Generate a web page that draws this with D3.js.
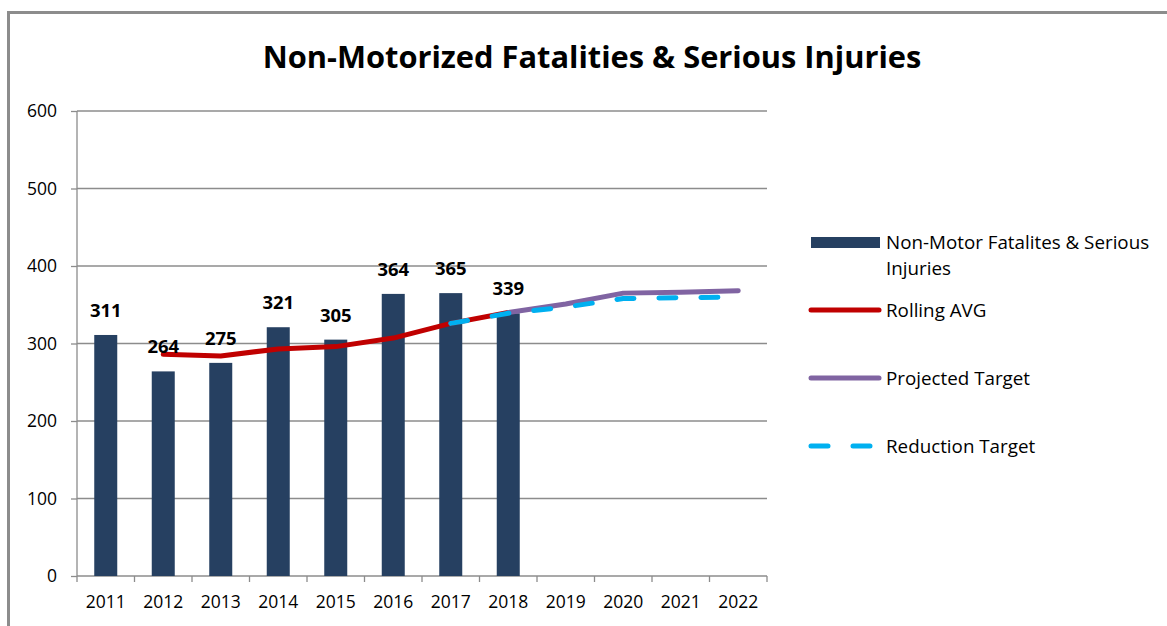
<!DOCTYPE html>
<meta charset="utf-8">
<style>
body { margin: 0; background: #fff; }
text { font-family: "Open Sans", sans-serif; fill: #000; }
.title { font-size: 30.8px; font-weight: bold; }
.tick-label { font-size: 17.5px; }
.data-label { font-size: 18.5px; font-weight: bold; }
.legend text { font-size: 18.8px; }
</style>
<svg width="1167" height="626"></svg>
<script src="https://d3js.org/d3.v7.min.js"></script>
<script>

var years = ["2011", "2012", "2013", "2014", "2015", "2016", "2017", "2018", "2019", "2020", "2021", "2022"],
    fatalities = [311, 264, 275, 321, 305, 364, 365, 339, null, null, null, null],
    rollingAvg = [null, 286, 284, 293, 296, 307, 326, 340, null, null, null, null],
    projected = [null, null, null, null, null, null, null, 340, 351, 365, 366, 368],
    reduction = [null, null, null, null, null, null, 326, 339, 347, 358, 359, 360],
    yTicks = [0, 100, 200, 300, 400, 500, 600];

var svg = d3.select("svg");

var gridColor = "#8c8c8c",
    barColor = "#264061",
    red = "#c00000",
    purple = "#8064a2",
    cyan = "#00b0f0";

// outer frame (only top and left edges are visible in the crop)
svg.append("rect")
    .attr("x", 8.5).attr("y", 12.5)
    .attr("width", 1200).attr("height", 700)
    .attr("fill", "none")
    .attr("stroke", gridColor)
    .attr("stroke-width", 3);

svg.append("text")
    .attr("class", "title")
    .attr("x", 592).attr("y", 68)
    .attr("text-anchor", "middle")
    .text("Non-Motorized Fatalities & Serious Injuries");

var x = d3.scaleBand().domain(years).range([77, 767]).padding(0),
    y = d3.scaleLinear().domain([0, 600]).range([576, 111]);

var cx = function(i) { return x(years[i]) + x.bandwidth() / 2; };

// gridlines
svg.append("g").selectAll("line")
    .data(yTicks.slice(1))
    .join("line")
    .attr("x1", 77).attr("x2", 767)
    .attr("y1", function(d) { return y(d); })
    .attr("y2", function(d) { return y(d); })
    .attr("stroke", gridColor)
    .attr("stroke-width", 1.3);

// y axis
var yAxis = svg.append("g")
    .attr("transform", "translate(77,0)")
    .call(d3.axisLeft(y).tickValues(yTicks).tickSize(6).tickPadding(14));
yAxis.attr("font-family", null).attr("font-size", null);
yAxis.select(".domain").attr("stroke", gridColor).attr("stroke-width", 1.3).attr("d", "M0,576V111");
yAxis.selectAll(".tick line").attr("stroke", gridColor).attr("stroke-width", 1.3);
yAxis.selectAll(".tick text").attr("class", "tick-label").attr("fill", "#000");

// x axis
var xAxis = svg.append("g");
xAxis.append("line")
    .attr("x1", 77).attr("x2", 767)
    .attr("y1", y(0)).attr("y2", y(0))
    .attr("stroke", gridColor).attr("stroke-width", 1.3);
xAxis.selectAll(".xt")
    .data(years.concat(["end"]))
    .join("line")
    .attr("class", "xt")
    .attr("x1", function(d, i) { return x.range()[0] + i * x.step(); })
    .attr("x2", function(d, i) { return x.range()[0] + i * x.step(); })
    .attr("y1", y(0)).attr("y2", y(0) + 6)
    .attr("stroke", gridColor).attr("stroke-width", 1.3);
xAxis.selectAll("text")
    .data(years)
    .join("text")
    .attr("class", "tick-label")
    .attr("x", function(d, i) { return cx(i); })
    .attr("y", 608)
    .attr("text-anchor", "middle")
    .text(function(d) { return d; });

// bars
var barW = x.bandwidth() * 0.4;
var barData = fatalities.map(function(v, i) { return {i: i, v: v}; }).filter(function(d) { return d.v != null; });

svg.append("g").selectAll("rect")
    .data(barData)
    .join("rect")
    .attr("x", function(d) { return cx(d.i) - barW / 2; })
    .attr("width", barW)
    .attr("y", function(d) { return y(d.v); })
    .attr("height", function(d) { return y(0) - y(d.v); })
    .attr("fill", barColor);

// lines
function drawLine(values, color, dash) {
  var line = d3.line()
      .defined(function(d) { return d != null; })
      .x(function(d, i) { return cx(i); })
      .y(function(d) { return y(d); });
  svg.append("path")
      .datum(values)
      .attr("d", line)
      .attr("fill", "none")
      .attr("stroke", color)
      .attr("stroke-width", 5)
      .attr("stroke-linecap", "round")
      .attr("stroke-linejoin", "round")
      .attr("stroke-dasharray", dash || null);
}
drawLine(rollingAvg, red);
drawLine(projected, purple);
drawLine(reduction, cyan, "17,25");

// data labels
svg.append("g").selectAll("text")
    .data(barData)
    .join("text")
    .attr("class", "data-label")
    .attr("x", function(d) { return cx(d.i); })
    .attr("y", function(d) { return y(d.v) - 18; })
    .attr("text-anchor", "middle")
    .text(function(d) { return d.v; });

// legend
var legend = svg.append("g").attr("class", "legend");
legend.append("rect")
    .attr("x", 811).attr("y", 237).attr("width", 69).attr("height", 11)
    .attr("fill", barColor);
legend.append("text").attr("x", 886).attr("y", 249).text("Non-Motor Fatalites & Serious");
legend.append("text").attr("x", 886).attr("y", 275).text("Injuries");

var legendLines = [
  {name: "Rolling AVG", color: red, y: 310, dash: null},
  {name: "Projected Target", color: purple, y: 378, dash: null},
  {name: "Reduction Target", color: cyan, y: 446, dash: "17,25"}
];
legendLines.forEach(function(d) {
  legend.append("line")
      .attr("x1", 811).attr("x2", 879)
      .attr("y1", d.y).attr("y2", d.y)
      .attr("stroke", d.color)
      .attr("stroke-width", 5)
      .attr("stroke-linecap", "round")
      .attr("stroke-dasharray", d.dash);
  legend.append("text").attr("x", 886).attr("y", d.y + 7).text(d.name);
});

</script>
